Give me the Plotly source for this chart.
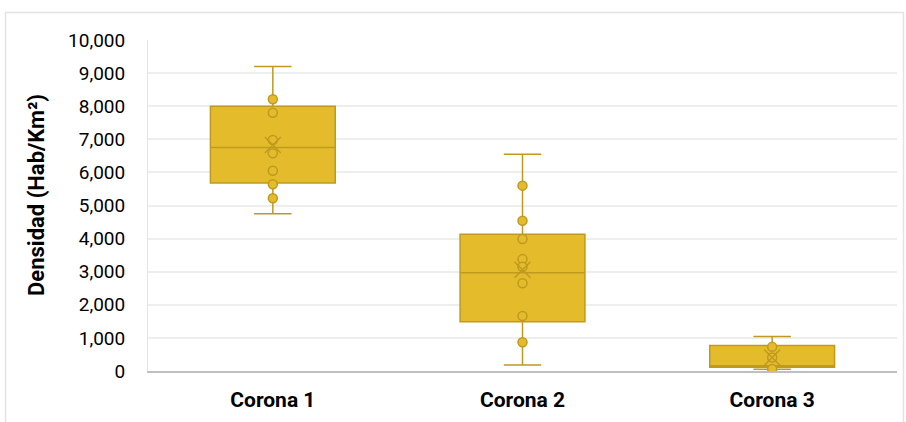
import plotly.graph_objects as go

# Density by ring ("corona"), inhabitants per km²
categories = ["Corona 1", "Corona 2", "Corona 3"]

lower_fence = [4750, 180, 50]
q1 = [5680, 1490, 110]
median = [6750, 2970, 160]
q3 = [8000, 4130, 770]
upper_fence = [9200, 6550, 1040]
mean = [6830, 3060, 410]

# Individual municipality values shown as dots
points_c1 = [8210, 7800, 6980, 6580, 6050, 5640, 5220]
points_c2 = [5600, 4540, 3990, 3380, 3150, 2650, 1660, 870]
points_c3 = [730, 410, 60]

y_ticks = list(range(0, 10001, 1000))

FILL = "#E4BC2B"
EDGE = "#BF9A1F"
FONT = "Roboto"

W, H = 906, 422
L, R, T, B = 148, 9, 40, 51

fig = go.Figure()

fig.add_trace(go.Box(
    x=categories,
    q1=q1, median=median, q3=q3,
    lowerfence=lower_fence, upperfence=upper_fence,
    boxpoints=False,
    fillcolor=FILL,
    line=dict(color=EDGE, width=1.5),
    width=0.5,
    whiskerwidth=0.3,
    showlegend=False,
    hoverinfo="skip",
))

all_points = [points_c1, points_c2, points_c3]
px_x, px_y = [], []
for cat, pts in zip(categories, all_points):
    px_x += [cat] * len(pts)
    px_y += pts

fig.add_trace(go.Scatter(
    x=px_x, y=px_y, mode="markers",
    marker=dict(symbol="circle", size=9, color=FILL,
                line=dict(color=EDGE, width=1.5)),
    showlegend=False, hoverinfo="skip",
))

fig.add_trace(go.Scatter(
    x=categories, y=mean, mode="markers",
    marker=dict(symbol="x-thin-open", size=16, color=EDGE,
                line=dict(color=EDGE, width=1.5)),
    showlegend=False, hoverinfo="skip",
))

plot_w = W - L - R
plot_h = H - T - B

# Outer chart-area frame
fig.add_shape(
    type="rect", xref="paper", yref="paper",
    x0=(5.5 - L) / plot_w, x1=(903.5 - L) / plot_w,
    y0=(H - B - 430) / plot_h, y1=(H - B - 12.5) / plot_h,
    line=dict(color="#E3E3E3", width=1.5), layer="below",
)

# Vertical axis title
fig.add_annotation(
    text="Densidad (Hab/Km²)", textangle=-90,
    xref="paper", yref="paper",
    x=(36 - L) / plot_w, y=(H - B - 195) / plot_h,
    xanchor="center", yanchor="middle", showarrow=False,
    font=dict(family=FONT, size=22, color="black", weight="bold"),
)

fig.update_layout(
    width=W, height=H,
    margin=dict(l=L, r=R, t=T, b=B),
    paper_bgcolor="white", plot_bgcolor="white",
    font=dict(family=FONT, color="black"),
    xaxis=dict(
        type="category", range=[-0.5, 2.5],
        showgrid=False, showline=True, linecolor="#BFBFBF", linewidth=1.5,
        ticks="", tickfont=dict(family=FONT, size=21, color="black", weight="bold"),
        ticklabelstandoff=9,
    ),
    yaxis=dict(
        range=[0, 10000], tickvals=y_ticks,
        tickformat=",d",
        showgrid=True, gridcolor="#EEEEEE", gridwidth=1.5,
        zeroline=False, showline=True, linecolor="#E3E3E3", linewidth=1,
        ticks="", tickfont=dict(family=FONT, size=19, color="black"),
        ticklabelstandoff=18,
    ),
)

fig.write_html("out.html")
